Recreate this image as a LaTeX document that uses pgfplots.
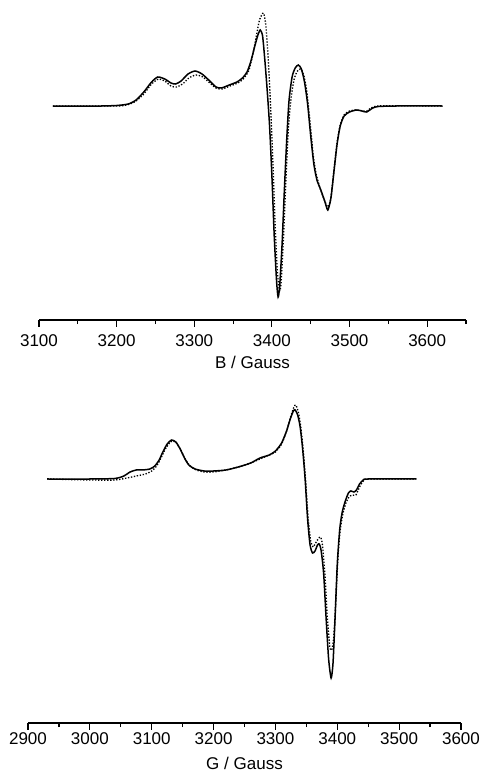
\documentclass[border=0pt]{standalone}
\usepackage{fontspec}
\setmainfont{Liberation Sans}
\usepackage{pgfplots}
\pgfplotsset{compat=1.18}

\pgfplotsset{
  eprax/.style={
    scale only axis,
    axis x line*=bottom,
    axis y line=none,
    xtick distance=100,
    minor x tick num=1,
    tick align=outside,
    major tick length=4pt,
    minor tick length=2.5pt,
    tick style={black, line width=0.7pt},
    axis line style={line width=0.8pt},
    /pgf/number format/1000 sep={},
    /pgf/number format/assume math mode=true,
    ticklabel style={font=\fontsize{10.2}{12}\selectfont},
    label style={font=\fontsize{10.2}{12}\selectfont},
    clip=false,
  },
  expt/.style={black, line width=0.9pt, smooth, tension=0.4},
  simu/.style={black, densely dotted, line width=0.8pt, smooth, tension=0.4},
}

\begin{document}
\begin{tikzpicture}
\useasboundingbox (0,0) rectangle (289.2pt,-462.6pt);

% top panel
\begin{axis}[
  eprax,
  at={(23.4pt,-192pt)}, anchor=south west,
  width=256.2pt, height=192pt,
  xmin=3100, xmax=3650,
  ymin=-214, ymax=106,
  xticklabel style={yshift=-1.4pt},
  xlabel style={yshift=1.4pt},
  xlabel={B / Gauss},
]
\addplot[simu] coordinates {
  (3118,0) (3200,0) (3215,1.5) (3225,5) (3235,12) (3245,22) (3254,27) (3262,25)
  (3270,20) (3277,19) (3285,22) (3293,28) (3302,31) (3311,29) (3320,23) (3328,18)
  (3336,17) (3346,20) (3356,23) (3363,27) (3370,35) (3375,50) (3380,70) (3384,86)
  (3389,93) (3392,82) (3395,50) (3398,5) (3401,-50) (3404,-115) (3407,-165) (3410,-185)
  (3412,-175) (3415,-130) (3418,-75) (3421,-25) (3425,10) (3429,28) (3433,35) (3437,37)
  (3441,31) (3445,14) (3449,-15) (3453,-48) (3457,-68) (3462,-82) (3467,-93) (3472,-101)
  (3476,-92) (3480,-64) (3484,-36) (3488,-19) (3493,-9) (3500,-5) (3509,-4) (3522,-5)
  (3537,0) (3620,0)
};
\addplot[expt] coordinates {
  (3118,0) (3150,0) (3180,0) (3200,0.5) (3215,2) (3225,6) (3235,14) (3245,24)
  (3253,29) (3262,27) (3270,23) (3276,22) (3283,25) (3292,32) (3301,35) (3310,32)
  (3320,25) (3328,19) (3335,18) (3345,21) (3355,24) (3362,28) (3368,34) (3373,45)
  (3378,60) (3382,71) (3385,76) (3388,70) (3391,45) (3394,15) (3397,-20) (3400,-70)
  (3403,-130) (3406,-175) (3408,-191) (3410,-180) (3413,-140) (3416,-85) (3419,-35) (3422,5)
  (3426,29) (3430,38) (3434,41) (3438,37) (3442,24) (3446,2) (3450,-30) (3454,-58)
  (3458,-74) (3463,-84) (3468,-95) (3472,-104) (3476,-92) (3480,-65) (3484,-38) (3488,-20)
  (3493,-10) (3500,-6) (3509,-4) (3516,-5) (3522,-6) (3530,-2) (3537,-0.5) (3560,0)
  (3620,0)
};
\end{axis}

% bottom panel
\begin{axis}[
  eprax,
  at={(16.8pt,-433.8pt)}, anchor=south west,
  width=259.8pt, height=199.8pt,
  xmin=2900, xmax=3600,
  ymin=-244, ymax=89,
  xticklabel style={yshift=1.5pt},
  xlabel style={yshift=-0.3pt},
  xlabel={G / Gauss},
]
\addplot[simu] coordinates {
  (2931,0) (3000,-1) (3040,-1) (3060,1) (3075,3) (3090,5) (3100,8) (3108,13)
  (3115,21) (3122,30) (3130,37) (3134,38) (3140,36) (3147,29) (3154,20) (3162,13)
  (3172,9) (3185,7) (3200,7) (3220,9) (3240,12) (3260,16) (3275,20) (3290,24)
  (3300,27) (3310,35) (3318,48) (3325,63) (3330,72) (3333,74) (3337,67) (3341,52)
  (3345,28) (3349,-3) (3353,-40) (3357,-62) (3361,-68) (3365,-64) (3369,-60) (3373,-58)
  (3376,-66) (3380,-95) (3384,-140) (3388,-168) (3391,-171) (3394,-160) (3397,-130) (3401,-80)
  (3405,-50) (3409,-35) (3414,-24) (3419,-18) (3424,-16) (3430,-16) (3436,-8) (3442,-2)
  (3450,0) (3528,0)
};
\addplot[expt] coordinates {
  (2931,0) (3000,0) (3040,0.5) (3055,3) (3065,7) (3075,9) (3085,9) (3097,10)
  (3105,13) (3112,19) (3118,27) (3125,35) (3132,39) (3139,37) (3146,30) (3153,21)
  (3160,14) (3170,10) (3185,8) (3200,8) (3220,9) (3240,12) (3260,16) (3275,21)
  (3290,24) (3300,28) (3310,36) (3318,48) (3324,60) (3329,68) (3332,69) (3336,64)
  (3340,52) (3344,30) (3348,0) (3352,-40) (3356,-66) (3360,-74) (3364,-72) (3368,-66)
  (3371,-65) (3374,-72) (3378,-95) (3382,-140) (3386,-180) (3390,-199) (3393,-185) (3396,-145)
  (3400,-85) (3404,-50) (3408,-33) (3413,-22) (3418,-14) (3422,-12) (3427,-13) (3431,-11)
  (3436,-5) (3442,-1) (3450,0) (3528,0)
};
\end{axis}
\end{tikzpicture}
\end{document}
